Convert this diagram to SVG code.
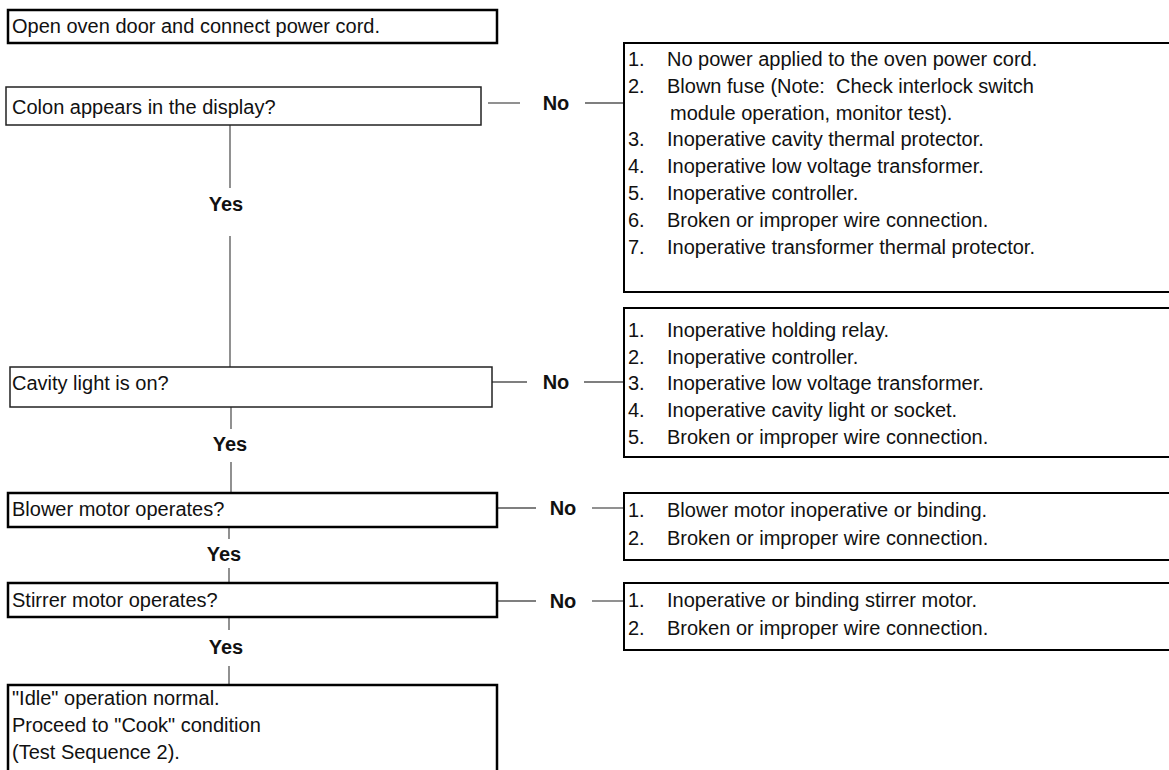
<svg xmlns="http://www.w3.org/2000/svg" width="1169" height="770" viewBox="0 0 1169 770">
<style>
text{font-family:"Liberation Sans",Arial,sans-serif;font-size:20px;fill:#111}
.b{font-weight:bold;text-anchor:middle}
.thick{fill:#fff;stroke:#000;stroke-width:2.5}
.thin{fill:#fff;stroke:#222;stroke-width:1.5}
.rb{fill:#fff;stroke:#000;stroke-width:2}
.c{stroke:#555;stroke-width:1.3;fill:none}
</style>
<rect width="1169" height="770" fill="#fff"/>
<g id="connectors">
<line class="c" x1="230" y1="125" x2="230" y2="188"/>
<line class="c" x1="230" y1="236" x2="230" y2="367"/>
<line class="c" x1="231" y1="407" x2="231" y2="429"/>
<line class="c" x1="231" y1="462" x2="231" y2="493"/>
<line class="c" x1="229" y1="524" x2="229" y2="539"/>
<line class="c" x1="229" y1="568" x2="229" y2="583"/>
<line class="c" x1="229" y1="617" x2="229" y2="630"/>
<line class="c" x1="229" y1="666" x2="229" y2="685"/>
<line class="c" x1="488" y1="103" x2="520" y2="103"/>
<line class="c" x1="585" y1="103" x2="624" y2="103"/>
<line class="c" x1="489" y1="382" x2="527" y2="382"/>
<line class="c" x1="584" y1="382" x2="624" y2="382"/>
<line class="c" x1="497" y1="508" x2="536" y2="508"/>
<line class="c" x1="592" y1="508" x2="624" y2="508"/>
<line class="c" x1="497" y1="601" x2="536" y2="601"/>
<line class="c" x1="592" y1="601" x2="624" y2="601"/>
<text class="b" x="226" y="211">Yes</text>
<text class="b" x="230" y="451">Yes</text>
<text class="b" x="224" y="561">Yes</text>
<text class="b" x="226" y="654">Yes</text>
<text class="b" x="556" y="110">No</text>
<text class="b" x="556" y="389">No</text>
<text class="b" x="563" y="515">No</text>
<text class="b" x="563" y="608">No</text>
</g>
<g id="start">
<rect class="thick" x="8" y="10" width="489" height="33"/>
<text x="12" y="33">Open oven door and connect power cord.</text>
</g>
<g id="colon">
<rect class="thin" x="6" y="87" width="475" height="38"/>
<text x="12" y="114">Colon appears in the display?</text>
</g>
<g id="colon-causes">
<rect class="rb" x="624" y="43" width="560" height="249"/>
<text x="628" y="66">1.</text><text x="667" y="66">No power applied to the oven power cord.</text>
<text x="628" y="93">2.</text><text x="667" y="93">Blown fuse (Note:&#160; Check interlock switch</text>
<text x="670" y="120">module operation, monitor test).</text>
<text x="628" y="146">3.</text><text x="667" y="146">Inoperative cavity thermal protector.</text>
<text x="628" y="173">4.</text><text x="667" y="173">Inoperative low voltage transformer.</text>
<text x="628" y="200">5.</text><text x="667" y="200">Inoperative controller.</text>
<text x="628" y="227">6.</text><text x="667" y="227">Broken or improper wire connection.</text>
<text x="628" y="254">7.</text><text x="667" y="254">Inoperative transformer thermal protector.</text>
</g>
<g id="cavity">
<rect class="thin" x="10" y="367" width="482" height="40"/>
<text x="12" y="390">Cavity light is on?</text>
</g>
<g id="cavity-causes">
<rect class="rb" x="624" y="308" width="560" height="149"/>
<text x="628" y="337">1.</text><text x="667" y="337">Inoperative holding relay.</text>
<text x="628" y="364">2.</text><text x="667" y="364">Inoperative controller.</text>
<text x="628" y="390">3.</text><text x="667" y="390">Inoperative low voltage transformer.</text>
<text x="628" y="417">4.</text><text x="667" y="417">Inoperative cavity light or socket.</text>
<text x="628" y="444">5.</text><text x="667" y="444">Broken or improper wire connection.</text>
</g>
<g id="blower">
<rect class="thick" x="8" y="493" width="489" height="34"/>
<text x="12" y="516">Blower motor operates?</text>
</g>
<g id="blower-causes">
<rect class="rb" x="624" y="493" width="560" height="67"/>
<text x="628" y="517">1.</text><text x="667" y="517">Blower motor inoperative or binding.</text>
<text x="628" y="545">2.</text><text x="667" y="545">Broken or improper wire connection.</text>
</g>
<g id="stirrer">
<rect class="thick" x="8" y="583" width="489" height="34"/>
<text x="12" y="607">Stirrer motor operates?</text>
</g>
<g id="stirrer-causes">
<rect class="rb" x="624" y="583" width="560" height="67"/>
<text x="628" y="607">1.</text><text x="667" y="607">Inoperative or binding stirrer motor.</text>
<text x="628" y="635">2.</text><text x="667" y="635">Broken or improper wire connection.</text>
</g>
<g id="idle">
<rect class="thick" x="8" y="685" width="489" height="100"/>
<text x="12" y="705">"Idle" operation normal.</text>
<text x="12" y="732">Proceed to "Cook" condition</text>
<text x="12" y="759">(Test Sequence 2).</text>
</g>
</svg>
